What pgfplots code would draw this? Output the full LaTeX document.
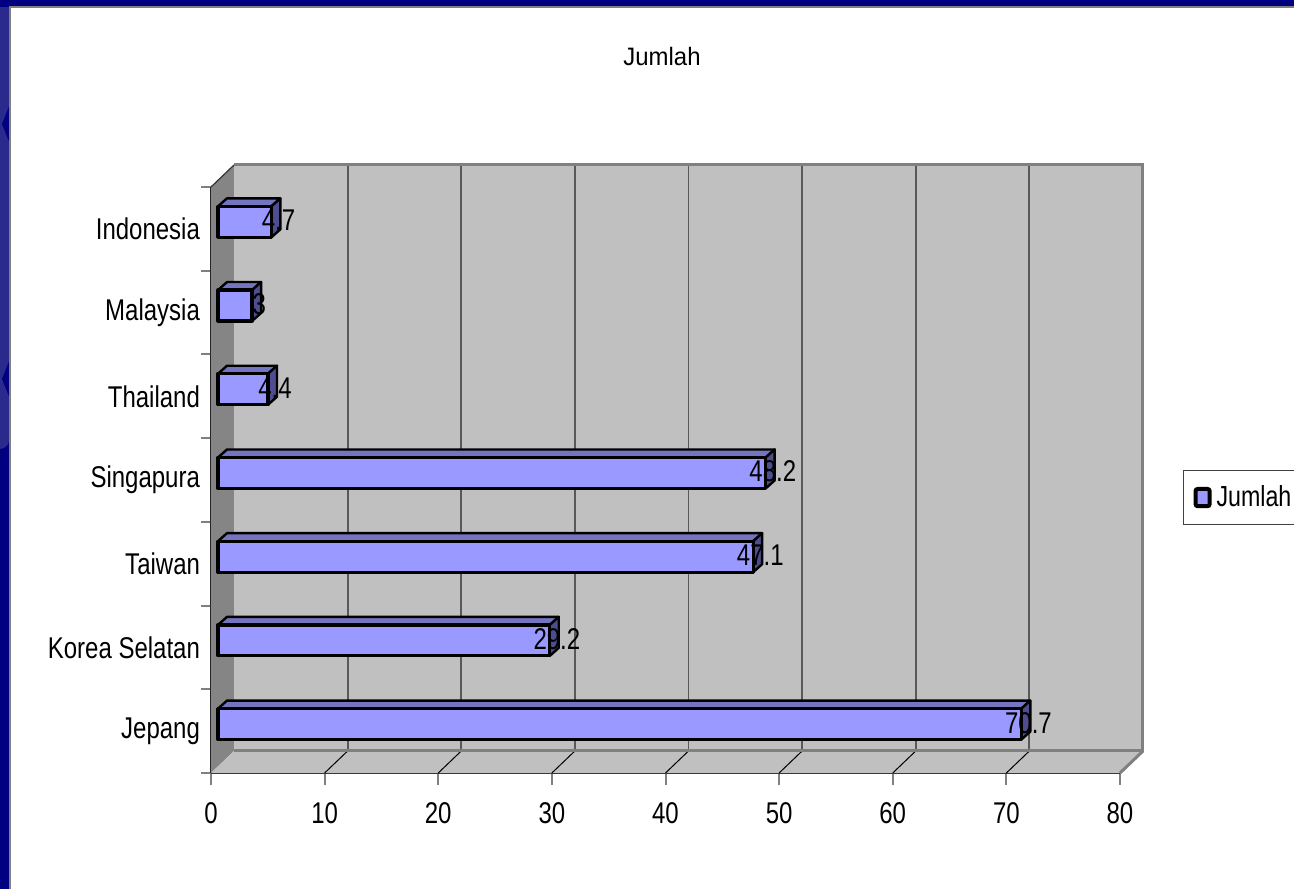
\documentclass[border=0pt]{standalone}
\usepackage{pgfplots}
\usepackage{pgfplotstable}
\pgfplotsset{compat=1.18}
\usepackage{fontspec}
\setmainfont{Liberation Sans}[FakeStretch=0.8]
\newfontfamily\titlefont{Liberation Sans}[FakeStretch=0.95]

\definecolor{slidenavy}{HTML}{000080}
\definecolor{slideblue}{HTML}{2A2A8C}
\definecolor{wallgray}{HTML}{C0C0C0}
\definecolor{sidegray}{HTML}{858585}
\definecolor{edgegray}{HTML}{808080}
\definecolor{barFront}{HTML}{9999FF}
\definecolor{barTop}{HTML}{7474C0}
\definecolor{barSide}{HTML}{4D4D8F}

% values per country (idx 0 = bottom row)
\pgfplotstableread{
idx val
0 70.7
1 29.2
2 47.1
3 48.2
4 4.4
5 3
6 4.7
}\datatable

% depth of the walls, offset and depth of the bars (data units)
\def\wdx{2.024}
\def\wdy{0.263}
\def\ox{0.616}
\def\oy{0.084}
\def\bdx{0.792}
\def\bdy{0.096}
\def\bh{0.185}

\begin{document}
\begin{tikzpicture}
\useasboundingbox (0pt,0pt) rectangle (647pt,444.5pt);
\begin{scope}[x=0.5pt,y=0.5pt]
% slide frame
\fill[slidenavy] (0,0) rectangle (1294,889);
\fill[slideblue] (0,889) -- (0,440) to[out=0,in=-90] (10,452) -- (10,889) -- cycle;
\fill[slidenavy] (10,785) -- (2,765) -- (10,745) -- cycle;
\fill[slidenavy] (10,530) -- (2,510) -- (10,490) -- cycle;
\fill[slidenavy] (0,882) rectangle (1294,889);
\fill[white] (10,0) rectangle (1294,882);
\draw[gray, line width=0.8pt] (10,0) -- (10,882) -- (1294,882);
% chart title
\node[font=\titlefont\fontsize{12.6pt}{14pt}\selectfont] at (662,832) {Jumlah};
\end{scope}

\begin{axis}[
  scale only axis,
  width=454.5pt, height=293pt,
  at={(105.5pt,58pt)}, anchor=south west,
  xmin=0, xmax=80, ymin=-0.5, ymax=6.5,
  clip=false,
  axis x line*=bottom, axis y line*=left,
  axis line style={-, draw=black!85, line width=1pt},
  /pgf/number format/assume math mode=true,
  xtick={0,10,...,80},
  ytick={0,...,6},
  yticklabels={Jepang,Korea Selatan,Taiwan,Singapura,Thailand,Malaysia,Indonesia},
  minor ytick={-0.5,0.5,...,6.5},
  tick align=outside,
  major tick length=6pt,
  minor tick length=5pt,
  every major x tick/.append style={draw=edgegray, line width=1pt},
  every major y tick/.append style={draw=none},
  every minor y tick/.append style={draw=edgegray, line width=1pt},
  tick label style={font=\fontsize{15pt}{17pt}\selectfont},
  xticklabel style={yshift=-5pt},
  yticklabel style={xshift=4pt},
  legend style={at={(1.0693,0.470)}, anchor=west, draw=black!75,
    line width=0.6pt, inner xsep=5pt, inner ysep=5.5pt,
    font=\fontsize{14.5pt}{17pt}\selectfont,
    /tikz/every odd column/.append style={column sep=0.5pt}},
  legend cell align=left,
]
% back wall
\addplot[forget plot, fill=wallgray, draw=none]
  coordinates {(\wdx,-0.5+\wdy) (80+\wdx,-0.5+\wdy) (80+\wdx,6.5+\wdy) (\wdx,6.5+\wdy)} -- cycle;
% left side wall
\addplot[forget plot, fill=sidegray, draw=none]
  coordinates {(0,-0.5) (\wdx,-0.5+\wdy) (\wdx,6.5+\wdy) (0,6.5)} -- cycle;
% floor
\addplot[forget plot, fill=wallgray, draw=none]
  coordinates {(0,-0.5) (80,-0.5) (80+\wdx,-0.5+\wdy) (\wdx,-0.5+\wdy)} -- cycle;
% grid lines on the back wall and floor
\pgfplotsinvokeforeach{10,20,...,70}{
  \addplot[forget plot, draw=black!65, line width=0.9pt]
    coordinates {(#1+\wdx,-0.5+\wdy) (#1+\wdx,6.5+\wdy)};
  \addplot[forget plot, draw=black, line width=0.5pt]
    coordinates {(#1,-0.5) (#1+\wdx,-0.5+\wdy)};
}
% wall edges
\addplot[forget plot, draw=edgegray, line width=1.5pt]
  coordinates {(\wdx,6.5+\wdy) (80+\wdx,6.5+\wdy) (80+\wdx,-0.5+\wdy) (\wdx,-0.5+\wdy)};
\addplot[forget plot, draw=edgegray, line width=1.5pt]
  coordinates {(80,-0.5) (80+\wdx,-0.5+\wdy)};
\addplot[forget plot, draw=black!80, line width=0.6pt]
  coordinates {(0,6.5) (\wdx,6.5+\wdy)};

% 3D bars
\pgfplotsinvokeforeach{0,...,6}{
  \pgfplotstablegetelem{#1}{val}\of\datatable
  \pgfmathsetmacro\xa{\ox}
  \pgfmathsetmacro\xb{\pgfplotsretval+\ox}
  \pgfmathsetmacro\xc{\xb+\bdx}
  \pgfmathsetmacro\xd{\xa+\bdx}
  \pgfmathsetmacro\ya{#1+\oy-\bh}
  \pgfmathsetmacro\yb{#1+\oy+\bh}
  \pgfmathsetmacro\yc{\yb+\bdy}
  \pgfmathsetmacro\yd{\ya+\bdy}
  \edef\barcmd{%
    \noexpand\addplot[forget plot, fill=barTop, draw=black, line width=1.2pt, line join=round]
      coordinates {(\xa,\yb) (\xb,\yb) (\xc,\yc) (\xd,\yc)} -- cycle;
    \noexpand\addplot[forget plot, fill=barSide, draw=black, line width=1.2pt, line join=round]
      coordinates {(\xb,\ya) (\xc,\yd) (\xc,\yc) (\xb,\yb)} -- cycle;
    \noexpand\addplot[forget plot, fill=barFront, draw=black, line width=1.6pt, line join=round]
      coordinates {(\xa,\ya) (\xb,\ya) (\xb,\yb) (\xa,\yb)} -- cycle;
  }\barcmd
}

% value labels
\addplot[forget plot, only marks, mark=none,
  nodes near coords,
  every node near coord/.append style={anchor=center, text=black,
    font=\fontsize{15pt}{17pt}\selectfont},
  point meta=explicit]
  table[x expr=\thisrow{val}+1.24, y expr=\thisrow{idx}+0.1, meta=val] {\datatable};

\addlegendimage{legend image code/.code={
  \draw[fill=barFront, line width=2pt, rounded corners=1pt] (0pt,-4.3pt) rectangle (7pt,4.3pt);}}
\addlegendentry{Jumlah\hspace*{14pt}}
\end{axis}
\end{tikzpicture}
\end{document}
